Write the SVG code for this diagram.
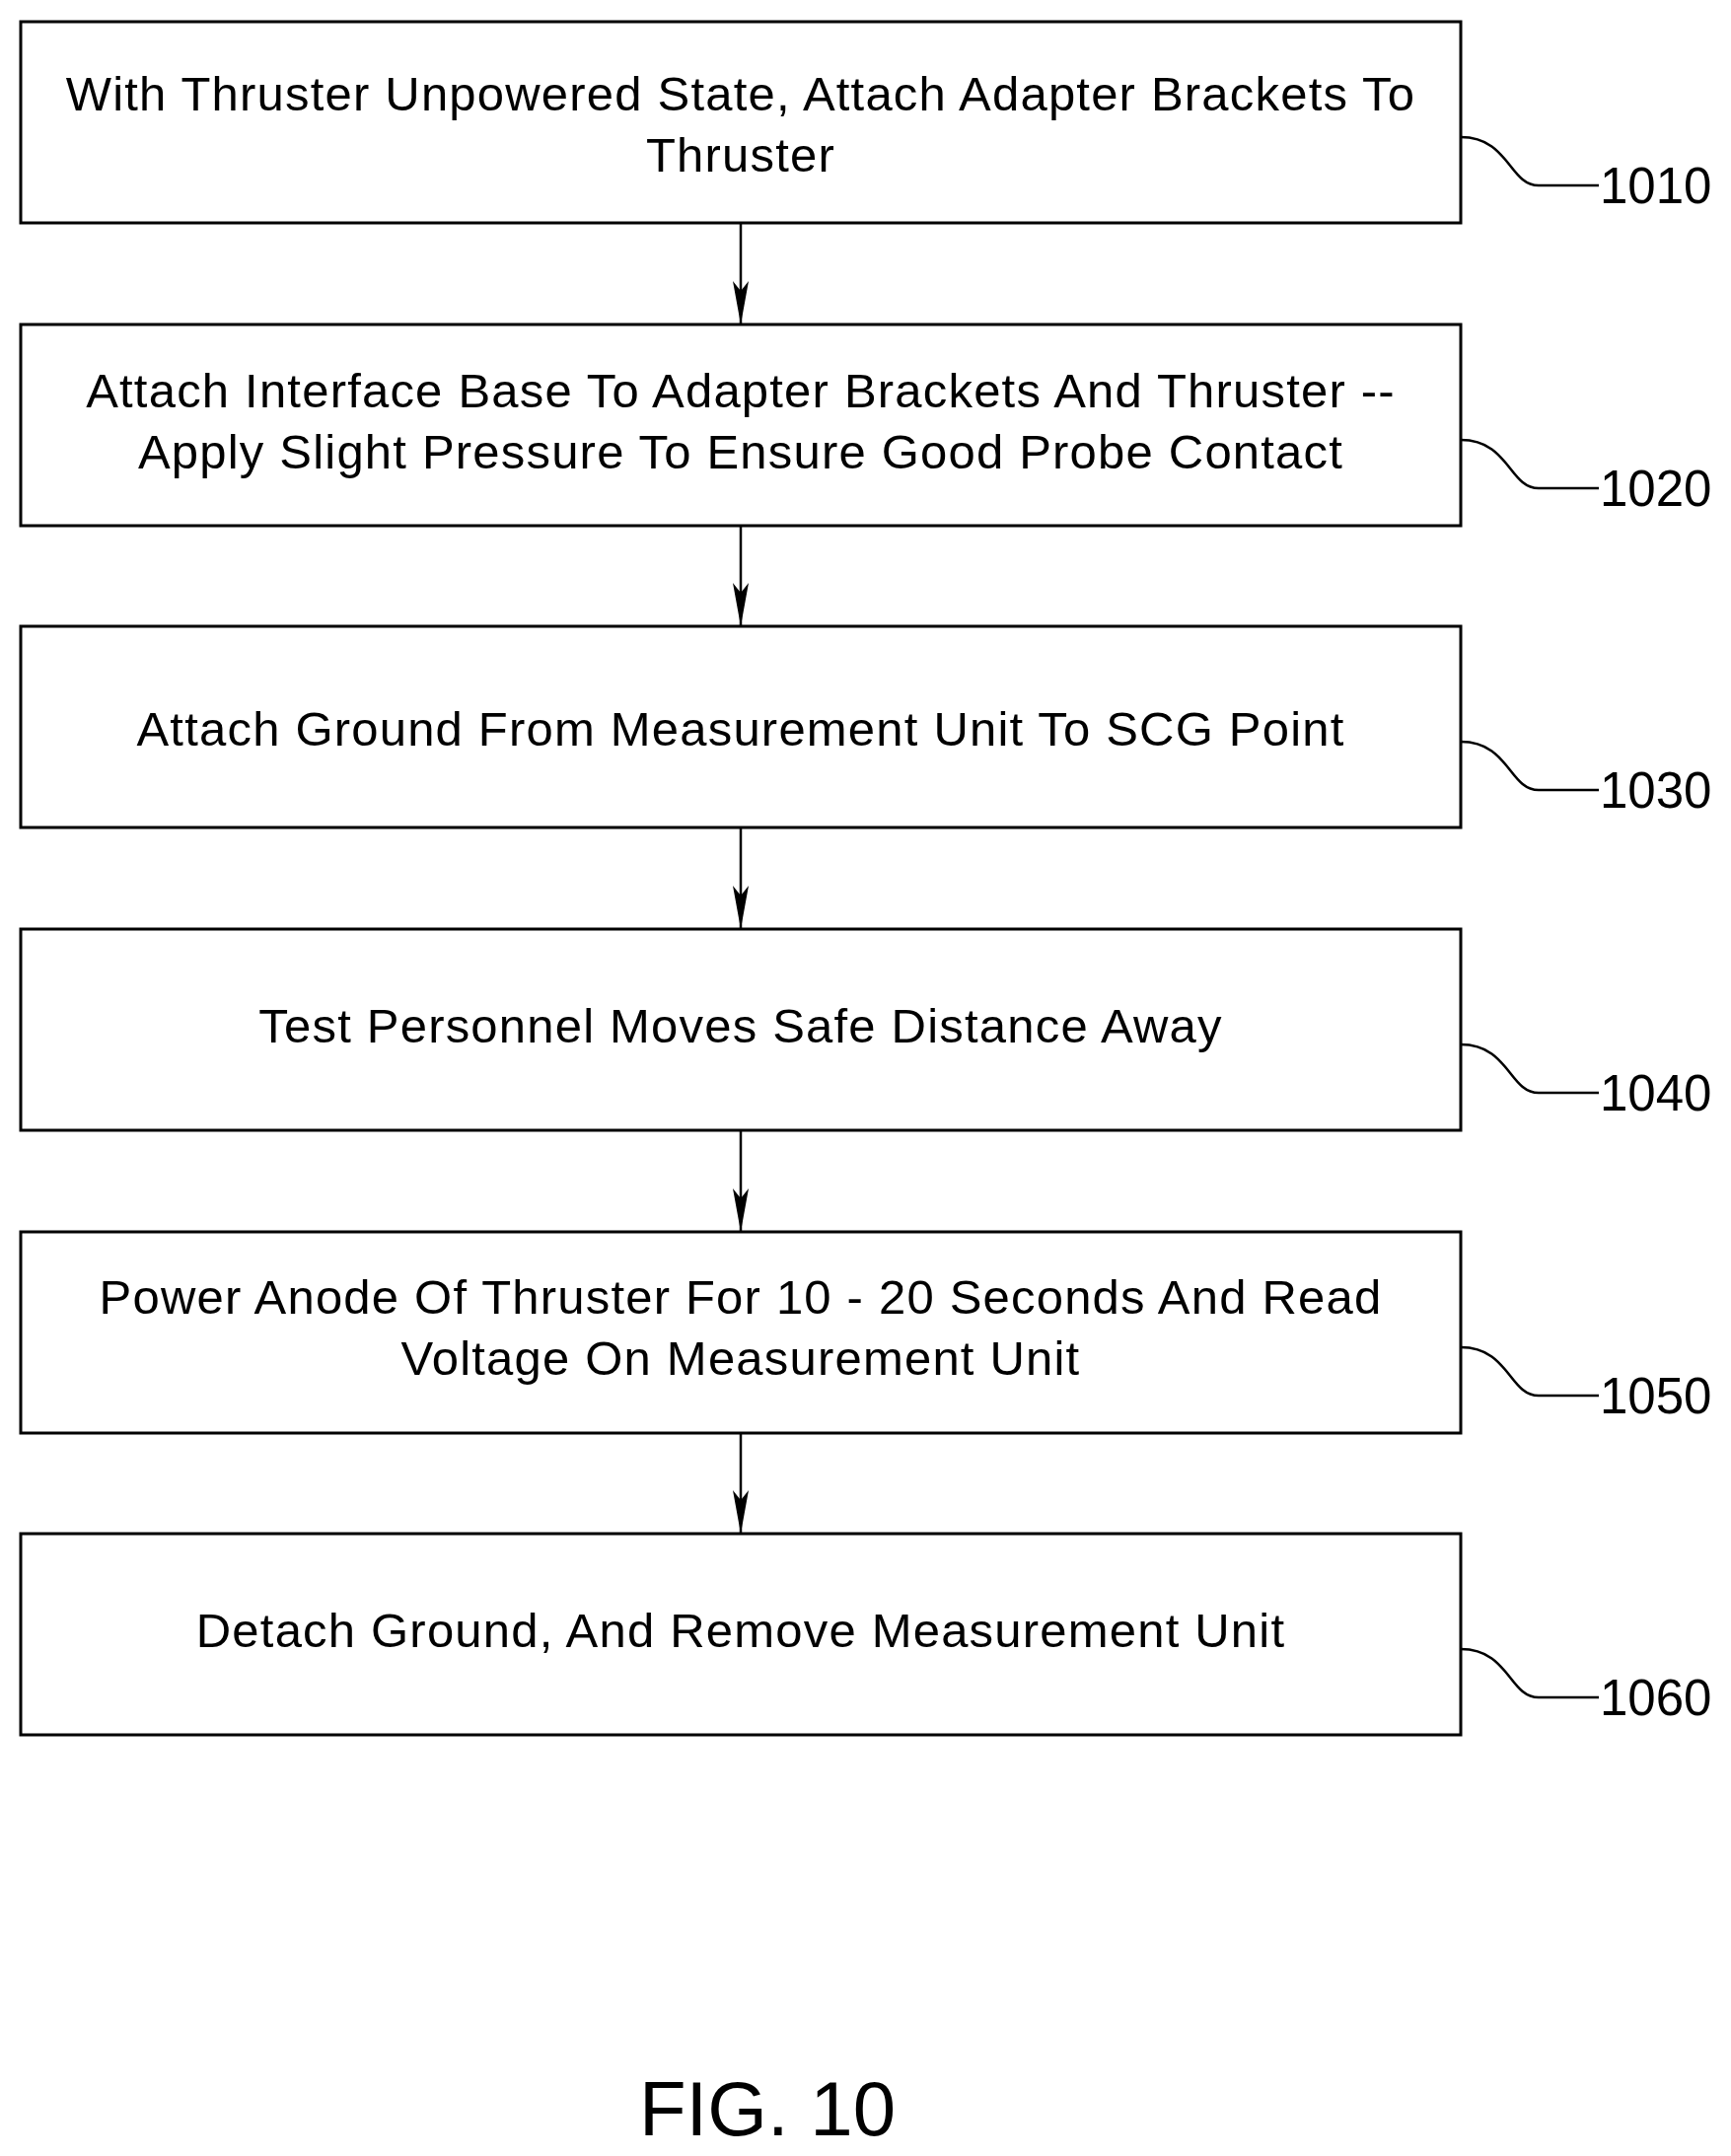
<svg xmlns="http://www.w3.org/2000/svg" width="1755" height="2186" viewBox="0 0 1755 2186">
<style>
.b{fill:#fff;stroke:#000;stroke-width:3}
.t{font-family:"Liberation Sans",Arial,sans-serif;font-size:49px;letter-spacing:1.2px;text-anchor:middle;fill:#000}
.l{font-family:"Liberation Sans",Arial,sans-serif;font-size:51px;fill:#000}
.c{fill:none;stroke:#000;stroke-width:2.5}
</style>
<defs><marker id="a" viewBox="0 0 44 16" refX="44" refY="8" markerWidth="44" markerHeight="16" markerUnits="userSpaceOnUse" orient="auto"><path d="M0,0 L44,8 L0,16 L10,8 Z" fill="#000"/></marker></defs>
<rect width="1755" height="2186" fill="#fff"/>
<g id="n1010"><rect class="b" x="21" y="22" width="1460" height="204"/><text class="t" x="751" y="112">With Thruster Unpowered State, Attach Adapter Brackets To</text><text class="t" x="751" y="174">Thruster</text></g>
<g id="n1020"><rect class="b" x="21" y="329" width="1460" height="204"/><text class="t" x="751" y="413">Attach Interface Base To Adapter Brackets And Thruster --</text><text class="t" x="751" y="475">Apply Slight Pressure To Ensure Good Probe Contact</text></g>
<g id="n1030"><rect class="b" x="21" y="635" width="1460" height="204"/><text class="t" x="751" y="756">Attach Ground From Measurement Unit To SCG Point</text></g>
<g id="n1040"><rect class="b" x="21" y="942" width="1460" height="204"/><text class="t" x="751" y="1057">Test Personnel Moves Safe Distance Away</text></g>
<g id="n1050"><rect class="b" x="21" y="1249" width="1460" height="204"/><text class="t" x="751" y="1332">Power Anode Of Thruster For 10 - 20 Seconds And Read</text><text class="t" x="751" y="1394">Voltage On Measurement Unit</text></g>
<g id="n1060"><rect class="b" x="21" y="1555" width="1460" height="204"/><text class="t" x="751" y="1670">Detach Ground, And Remove Measurement Unit</text></g>
<g id="connectors">
<line class="c" x1="751" y1="226" x2="751" y2="329" marker-end="url(#a)"/>
<line class="c" x1="751" y1="533" x2="751" y2="635" marker-end="url(#a)"/>
<line class="c" x1="751" y1="839" x2="751" y2="942" marker-end="url(#a)"/>
<line class="c" x1="751" y1="1146" x2="751" y2="1249" marker-end="url(#a)"/>
<line class="c" x1="751" y1="1453" x2="751" y2="1555" marker-end="url(#a)"/>
<path class="c" d="M1481,139 C1530,139 1530,188 1560,188 L1621,188"/>
<path class="c" d="M1481,446 C1530,446 1530,495 1560,495 L1621,495"/>
<path class="c" d="M1481,752 C1530,752 1530,801 1560,801 L1621,801"/>
<path class="c" d="M1481,1059 C1530,1059 1530,1108 1560,1108 L1621,1108"/>
<path class="c" d="M1481,1366 C1530,1366 1530,1415 1560,1415 L1621,1415"/>
<path class="c" d="M1481,1672 C1530,1672 1530,1721 1560,1721 L1621,1721"/>
</g>
<g id="labels">
<text class="l" x="1622" y="206">1010</text>
<text class="l" x="1622" y="513">1020</text>
<text class="l" x="1622" y="819">1030</text>
<text class="l" x="1622" y="1126">1040</text>
<text class="l" x="1622" y="1433">1050</text>
<text class="l" x="1622" y="1739">1060</text>
</g>
<text x="778" y="2165" style="font-family:'Liberation Sans',Arial,sans-serif;font-size:78px;text-anchor:middle">FIG. 10</text>
</svg>
